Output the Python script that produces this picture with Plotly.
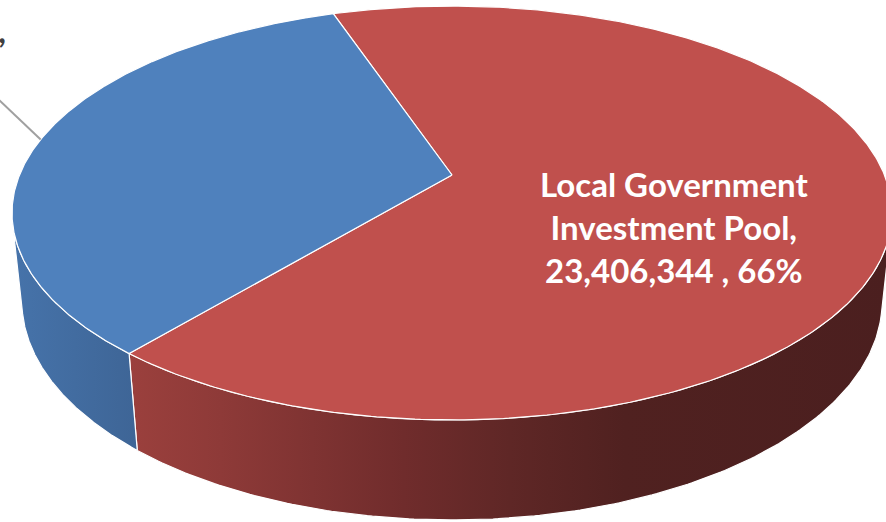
import numpy as np
import plotly.graph_objects as go

# ---- data ----
categories = ["Local Government Investment Pool", "Cash and Cash Equivalents"]
label_lines = [["Local Government", "Investment Pool,"], ["Cash and Cash Equivalents,"]]
values = [23406344, 11894210]
top_colors = ["#C0504D", "#4F81BD"]
side_scales = [
    [[0.0, "#9B403D"], [0.12, "#8E3A38"], [0.36, "#702C2C"], [0.5, "#5F2726"],
     [0.65, "#502120"], [1.0, "#4B1F1F"]],
    [[0.0, "#4673AA"], [1.0, "#3E6596"]],
]

# ---- 3D pie geometry (perspective projection) ----
W, H = 886, 522
cx, cy = 452.0, 175.0
S = 432.5
A = np.arcsin(0.4624)
D = 4.83
T = 0.233
START = 251.2  # degrees, clockwise on screen, 0 = right, 90 = front

sinA, cosA = np.sin(A), np.cos(A)


def proj(theta_deg, Y, r=1.0):
    th = np.radians(np.asarray(theta_deg, dtype=float))
    X = r * np.cos(th)
    Z = r * np.sin(th)
    depth = D - (Y * sinA + Z * cosA)
    sx = cx + S * X * D / depth
    sy = cy - S * (Y * cosA - Z * sinA) * D / depth
    return sx, sy


total = float(sum(values))
fracs = [v / total for v in values]
bounds = []
a = START
for f in fracs:
    bounds.append((a, a + f * 360.0))
    a += f * 360.0

vis_lo = np.degrees(np.arcsin(1.0 / (D * cosA)))
vis_hi = 180.0 - vis_lo

fig = go.Figure()

# sides
for i, (a0, a1) in enumerate(bounds):
    for k in range(-1, 3):
        lo = max(a0, vis_lo + 360 * k)
        hi = min(a1, vis_hi + 360 * k)
        if hi <= lo:
            continue
        th = np.linspace(lo, hi, 200)
        tx, ty = proj(th, 0.0)
        bx, by = proj(th[::-1], -T)
        xs = np.concatenate([tx, bx, tx[:1]])
        ys = np.concatenate([ty, by, ty[:1]])
        fig.add_trace(go.Scatter(
            x=xs, y=ys, mode="lines", fill="toself",
            fillgradient=dict(type="horizontal", colorscale=side_scales[i],
                              start=float(xs.min()), stop=float(xs.max())),
            line=dict(color="white", width=1.2),
            hoverinfo="skip", showlegend=False))

# tops
vx, vy = proj(0.0, 0.0, r=0.0)
for i, (a0, a1) in enumerate(bounds):
    th = np.linspace(a0, a1, 400)
    ax_, ay_ = proj(th, 0.0)
    xs = np.concatenate([[vx], ax_, [vx]])
    ys = np.concatenate([[vy], ay_, [vy]])
    fig.add_trace(go.Scatter(
        x=xs, y=ys, mode="lines", fill="toself", fillcolor=top_colors[i],
        line=dict(color="white", width=1.2),
        hoverinfo="skip", showlegend=False))

# leader line for the second slice (label outside, mostly off-canvas)
mid1 = 0.5 * (bounds[1][0] + bounds[1][1])
lx, ly = proj(mid1, 0.0)
fig.add_trace(go.Scatter(
    x=[float(lx), float(lx) - 80], y=[float(ly), float(ly) - 76],
    mode="lines", line=dict(color="#A0A0A0", width=2),
    hoverinfo="skip", showlegend=False))

# labels
def label_text(i):
    pct = round(fracs[i] * 100)
    return "<br>".join(label_lines[i] + [f"{values[i]:,} , {pct}%"])

fig.add_annotation(
    x=674, y=227, xref="x", yref="y", showarrow=False,
    text=label_text(0), align="center", xanchor="center", yanchor="middle",
    font=dict(family="Lato", size=33, color="white", weight="bold"))

fig.add_annotation(
    x=8, y=8, xref="x", yref="y", showarrow=False,
    text=label_text(1), align="center", xanchor="right", yanchor="top",
    font=dict(family="Lato", size=33, color="#404040", weight="bold"))

fig.update_layout(
    width=W, height=H, margin=dict(l=0, r=0, t=0, b=0),
    paper_bgcolor="white", plot_bgcolor="white", showlegend=False,
    xaxis=dict(range=[0, W], visible=False, fixedrange=True),
    yaxis=dict(range=[H, 0], visible=False, fixedrange=True),
)

fig.write_html("out.html")
